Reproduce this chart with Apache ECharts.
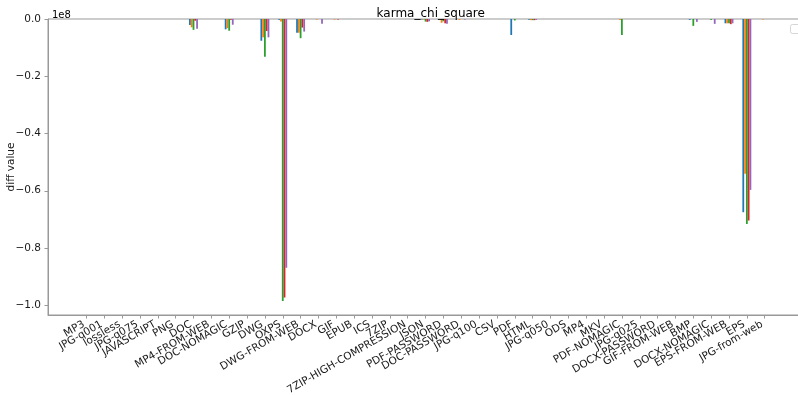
<!DOCTYPE html>
<html>
<head>
<meta charset="utf-8">
<script src="https://cdn.jsdelivr.net/npm/echarts@6/dist/echarts.min.js"></script>
<style>
  html, body { margin: 0; padding: 0; background: #fff; }
  #chart { width: 798px; height: 395px; }
</style>
</head>
<body>
<div id="chart"></div>
<script>
// categories along the x axis
let categories = [
    'MP3', 'JPG-q001', 'lossless', 'JPG-q075', 'JAVASCRIPT', 'PNG', 'DOC', 'MP4-FROM-WEB',
    'DOC-NOMAGIC', 'GZIP', 'DWG', 'OXPS', 'DWG-FROM-WEB', 'DOCX', 'GIF', 'EPUB', 'ICS', '7ZIP',
    '7ZIP-HIGH-COMPRESSION', 'JSON', 'PDF-PASSWORD', 'DOC-PASSWORD', 'JPG-q100', 'CSV', 'PDF',
    'HTML', 'JPG-q050', 'ODS', 'MP4', 'MKV', 'PDF-NOMAGIC', 'JPG-q025', 'DOCX-PASSWORD',
    'GIF-FROM-WEB', 'BMP', 'DOCX-NOMAGIC', 'EPS-FROM-WEB', 'EPS', 'JPG-from-web'
];
// values in millions (x 1e6)
let series1 = [0, 0, 0, 0, 0, 0, -2.1, 0, -3.6, 0, -7.6, -0.3, -4.8, 0, 0, 0, 0, 0, 0, -0.2, 0, 0, 0, 0, -5.6, -0.3, 0, 0, 0, 0, 0, 0, 0, 0, -0.3, 0, -1.5, -67.5, 0];
let series2 = [0, 0, 0, 0, 0, 0, -2.9, 0, -3.2, 0, -6.4, -0.9, -4.8, -0.2, -0.2, 0, 0, 0, 0, -0.2, -1.3, -0.3, 0, 0, 0, -0.4, 0, 0, 0, 0, -0.3, 0, 0, 0, 0, 0, -1.5, -54.1, -0.2];
let series3 = [0, 0, 0, 0, 0, 0, -3.8, 0, -4.1, 0, -13.2, -98.5, -6.7, 0, 0, 0, 0, 0, 0, -0.9, -0.8, 0, 0, 0, -0.5, -0.4, 0, 0, 0, 0, -5.6, 0, 0, 0, -2.4, -0.3, -1.5, -71.6, 0];
let series4 = [0, 0, 0, 0, 0, 0, -0.6, 0, -0.3, 0, -4.2, -97.3, -3.0, 0, -0.2, 0, 0, 0, 0, -1.0, -1.5, 0, 0, 0, 0, -0.4, 0, 0, 0, 0, 0, 0, 0, 0, 0, 0, -1.8, -70.4, 0];
let series5 = [0, 0, 0, 0, 0, 0, -3.4, 0, -2.0, 0, -6.4, -86.9, -4.4, -1.7, 0, 0, 0, 0, 0, -0.8, -1.7, -0.2, 0, 0, 0, -0.3, 0, 0, 0, 0, 0, 0, 0, 0, -1.0, -1.7, -1.5, -59.7, 0];
// y tick values (in units of 1e8)
let yTicks = [0, -0.2, -0.4, -0.6, -0.8, -1.0];

let colors = ['#1f77b4', '#ff7f0e', '#2ca02c', '#d62728', '#9467bd'];
let allSeries = [series1, series2, series3, series4, series5];

let tickIdx = categories.map(function (c, i) { return i; });
let yTickVals = yTicks.map(function (t) { return t * 1e8; });
let fontFamily = 'DejaVu Sans';

// x scale: one category = 17.85px, first tick at 86.4px
let step = 17.85;
let firstTick = 86.4;
let plotLeft = 48, plotRight = 803.5;

let chart = echarts.init(document.getElementById('chart'), null, { renderer: 'canvas' });
chart.setOption({
    animation: false,
    textStyle: { fontFamily: fontFamily },
    title: [{
        text: 'karma_chi_square',
        left: 425.75,
        textAlign: 'center',
        top: 3,
        textStyle: { fontSize: 12, fontWeight: 'normal', color: '#000', fontFamily: fontFamily }
    }, {
        text: '1e8',
        left: 47,
        top: 5,
        textStyle: { fontSize: 10, fontWeight: 'normal', color: '#000', fontFamily: fontFamily }
    }],
    grid: [{
        left: plotLeft, top: 19, right: 798 - plotRight, bottom: 80,
        outerBoundsMode: 'none',
        show: true, borderColor: '#999', borderWidth: 1, backgroundColor: 'transparent'
    }, {
        // label-only grid, one band per category
        left: firstTick - step / 2,
        width: step * categories.length,
        top: 19, bottom: 80,
        outerBoundsMode: 'none'
    }],
    xAxis: [{
        type: 'value',
        gridIndex: 0,
        min: (plotLeft - firstTick) / step,
        max: (plotRight - firstTick) / step,
        splitLine: { show: false },
        axisLine: { onZero: false, lineStyle: { color: '#999' } },
        axisTick: { customValues: tickIdx, length: 3.5, lineStyle: { color: '#999' } },
        axisLabel: { show: false }
    }, {
        type: 'category',
        gridIndex: 1,
        data: categories,
        axisLine: { show: false, onZero: false },
        axisTick: { show: false },
        axisLabel: {
            interval: 0,
            rotate: 30,
            margin: 7,
            padding: [0, 3, 0, 0],
            fontSize: 10.5,
            color: '#1a1a1a',
            fontFamily: fontFamily
        }
    }],
    yAxis: [{
        type: 'value',
        gridIndex: 0,
        min: -1.034e8,
        max: 0,
        name: 'diff value',
        nameLocation: 'middle',
        nameGap: 31,
        nameMoveOverlap: false,
        nameTextStyle: { fontSize: 10.5, color: '#1a1a1a', fontFamily: fontFamily },
        splitLine: { show: false },
        axisLine: { show: true, onZero: false, lineStyle: { color: '#999' } },
        axisTick: { show: true, customValues: yTickVals, length: 3.5, lineStyle: { color: '#999' } },
        axisLabel: {
            customValues: yTickVals,
            showMinLabel: true,
            showMaxLabel: true,
            margin: 7,
            fontSize: 10.5,
            color: '#1a1a1a',
            fontFamily: fontFamily,
            formatter: function (v) {
                return (v / 1e8).toFixed(1).replace('-', '\u2212');
            }
        }
    }, {
        type: 'value',
        gridIndex: 1,
        show: false
    }],
    graphic: [{
        type: 'rect',
        shape: { x: 790.5, y: 24.5, width: 20, height: 9, r: 2 },
        style: { fill: '#fff', stroke: '#d5d5d5', lineWidth: 1 },
        z: 100
    }],
    series: allSeries.map(function (vals, k) {
        return {
            type: 'bar',
            name: 'series ' + (k + 1),
            xAxisIndex: 0,
            yAxisIndex: 0,
            barWidth: 1.785,
            barGap: '0%',
            itemStyle: { color: colors[k] },
            data: vals.map(function (v, i) { return [i, v * 1e6]; })
        };
    })
});
</script>
</body>
</html>
